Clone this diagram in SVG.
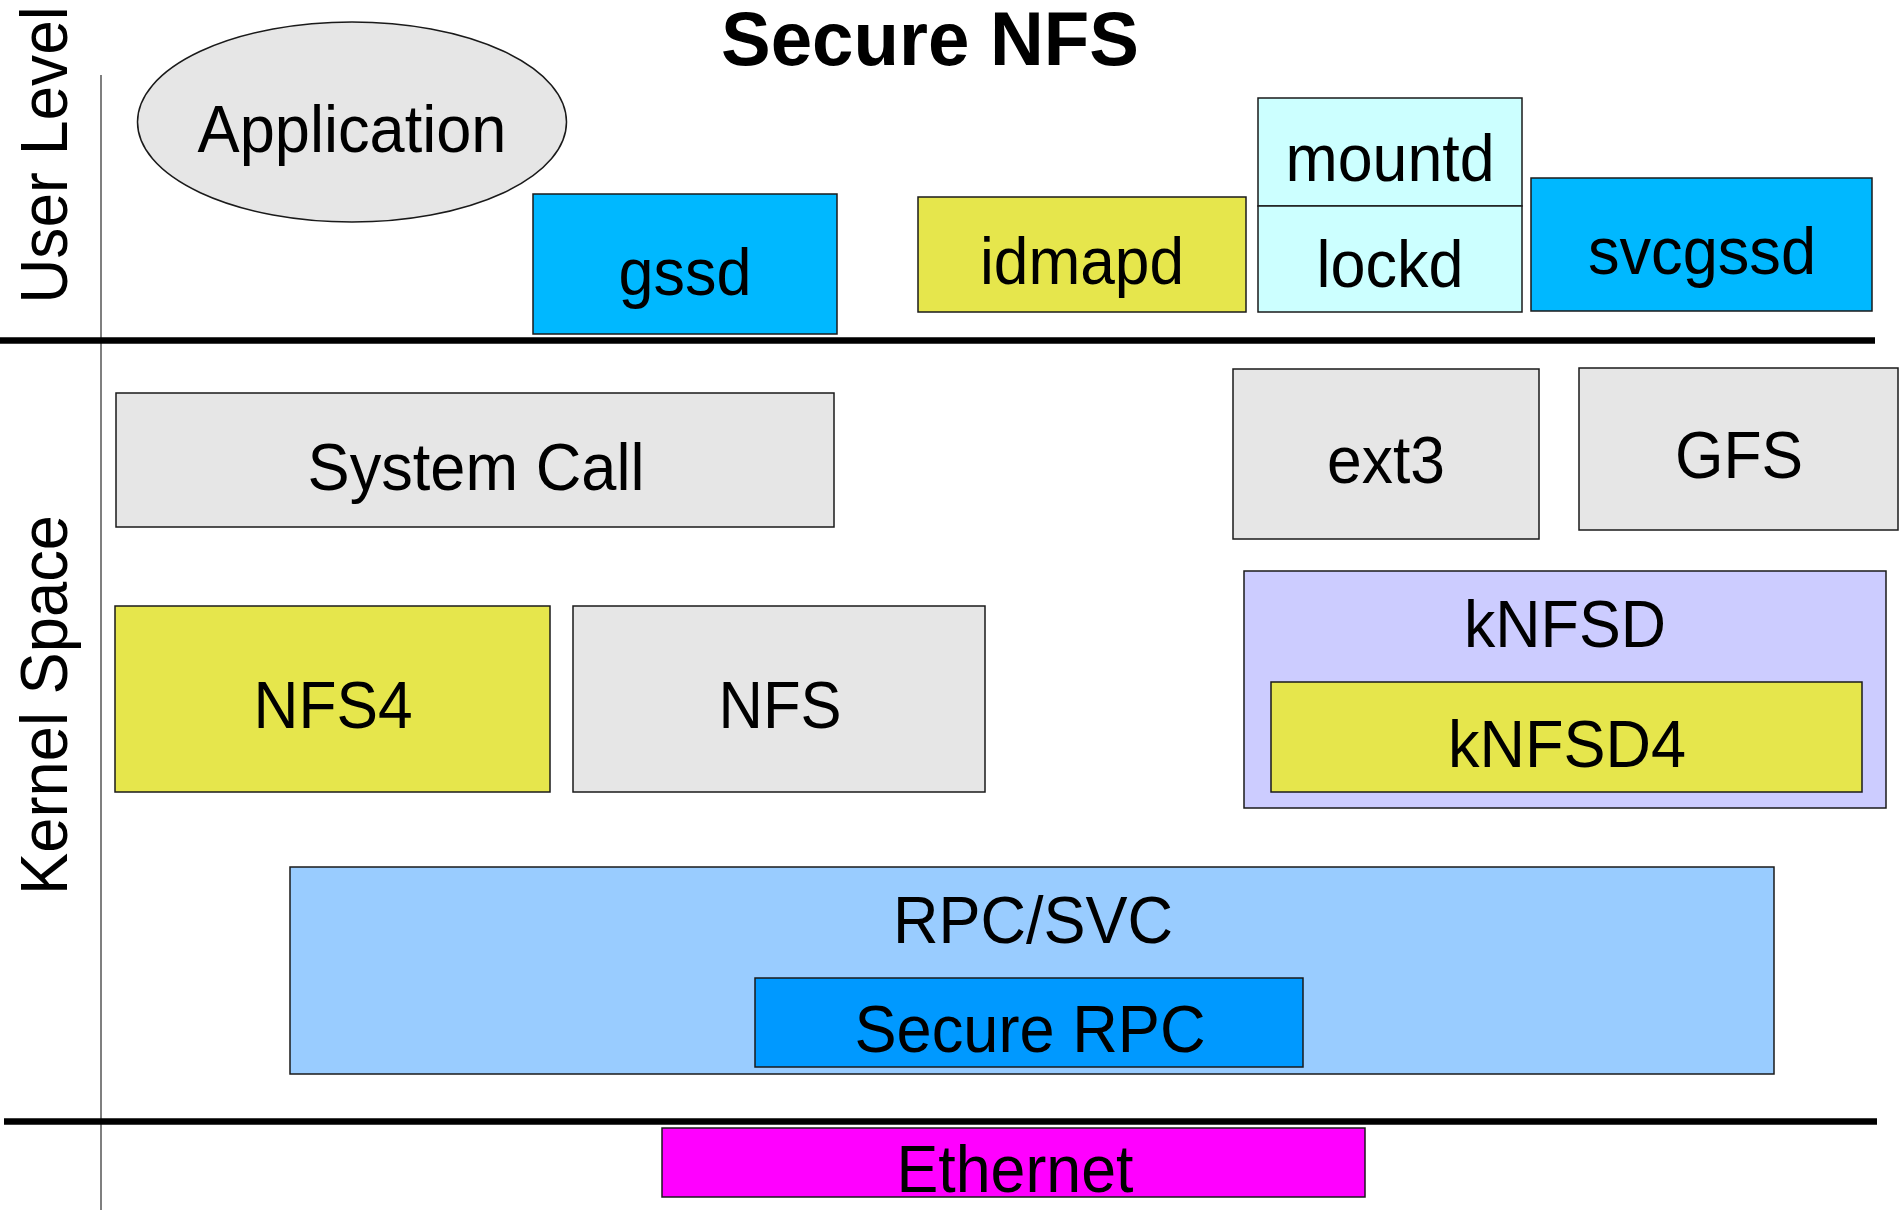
<svg xmlns="http://www.w3.org/2000/svg" width="1901" height="1210" viewBox="0 0 1901 1210">
<style>
.lbl{font-family:"Liberation Sans",Arial,sans-serif;font-size:67px;fill:#000;text-anchor:middle}
.box{stroke:#1a1a1a;stroke-width:1.5}
.gray{fill:#e6e6e6}.yel{fill:#e6e64c}.cyan{fill:#ccffff}.blue{fill:#00b8ff}
.sep{stroke:#000;stroke-width:6.5}
</style>
<rect width="1901" height="1210" fill="#fff"/>
<line x1="101" y1="75" x2="101" y2="1210" stroke="#555" stroke-width="1.5"/>
<g id="dividers">
<line class="sep" x1="0" y1="340.5" x2="1875" y2="340.5"/>
<line class="sep" x1="4" y1="1121.5" x2="1877" y2="1121.5"/>
</g>
<text x="930" y="65" font-family="Liberation Sans,Arial,sans-serif" font-weight="bold" font-size="76" text-anchor="middle" textLength="418" lengthAdjust="spacingAndGlyphs">Secure NFS</text>
<text transform="translate(67,155) rotate(-90)" class="lbl" font-size="68" textLength="297" lengthAdjust="spacingAndGlyphs">User Level</text>
<text transform="translate(67,705) rotate(-90)" class="lbl" font-size="68" textLength="380" lengthAdjust="spacingAndGlyphs">Kernel Space</text>
<g id="application"><ellipse cx="352" cy="122" rx="214.5" ry="100" class="box gray"/><text class="lbl" x="352" y="152" textLength="309" lengthAdjust="spacingAndGlyphs">Application</text></g>
<g id="gssd"><rect x="533" y="194" width="304" height="140" class="box blue"/><text class="lbl" x="685" y="295" textLength="133" lengthAdjust="spacingAndGlyphs">gssd</text></g>
<g id="idmapd"><rect x="918" y="197" width="328" height="115" class="box yel"/><text class="lbl" x="1082" y="284" textLength="204" lengthAdjust="spacingAndGlyphs">idmapd</text></g>
<g id="mountd"><rect x="1258" y="98" width="264" height="108" class="box cyan"/><text class="lbl" x="1390" y="181" textLength="209" lengthAdjust="spacingAndGlyphs">mountd</text></g>
<g id="lockd"><rect x="1258" y="206" width="264" height="106" class="box cyan"/><text class="lbl" x="1390" y="287" textLength="147" lengthAdjust="spacingAndGlyphs">lockd</text></g>
<g id="svcgssd"><rect x="1531" y="178" width="341" height="133" class="box blue"/><text class="lbl" x="1702" y="274" textLength="228" lengthAdjust="spacingAndGlyphs">svcgssd</text></g>
<g id="systemcall"><rect x="116" y="393" width="718" height="134" class="box gray"/><text class="lbl" x="476" y="490" textLength="337" lengthAdjust="spacingAndGlyphs">System Call</text></g>
<g id="ext3"><rect x="1233" y="369" width="306" height="170" class="box gray"/><text class="lbl" x="1386" y="483" textLength="118" lengthAdjust="spacingAndGlyphs">ext3</text></g>
<g id="gfs"><rect x="1579" y="368" width="319" height="162" class="box gray"/><text class="lbl" x="1739" y="478" textLength="128" lengthAdjust="spacingAndGlyphs">GFS</text></g>
<g id="nfs4"><rect x="115" y="606" width="435" height="186" class="box yel"/><text class="lbl" x="333" y="728" textLength="159" lengthAdjust="spacingAndGlyphs">NFS4</text></g>
<g id="nfs"><rect x="573" y="606" width="412" height="186" class="box gray"/><text class="lbl" x="780" y="728" textLength="123" lengthAdjust="spacingAndGlyphs">NFS</text></g>
<g id="knfsd"><rect x="1244" y="571" width="642" height="237" class="box" fill="#ccccff"/><text class="lbl" x="1565" y="647" textLength="202" lengthAdjust="spacingAndGlyphs">kNFSD</text></g>
<g id="knfsd4"><rect x="1271" y="682" width="591" height="110" class="box yel"/><text class="lbl" x="1567" y="767" textLength="238" lengthAdjust="spacingAndGlyphs">kNFSD4</text></g>
<g id="rpcsvc"><rect x="290" y="867" width="1484" height="207" class="box" fill="#99ccff"/><text class="lbl" x="1033" y="943" textLength="280" lengthAdjust="spacingAndGlyphs">RPC/SVC</text></g>
<g id="securerpc"><rect x="755" y="978" width="548" height="89" class="box" fill="#0099ff"/><text class="lbl" x="1030" y="1052" textLength="351" lengthAdjust="spacingAndGlyphs">Secure RPC</text></g>
<g id="ethernet"><rect x="662" y="1128" width="703" height="69" class="box" fill="#ff00ff"/><text class="lbl" x="1015" y="1192" textLength="237" lengthAdjust="spacingAndGlyphs">Ethernet</text></g>
<g id="connectors"></g>
</svg>
